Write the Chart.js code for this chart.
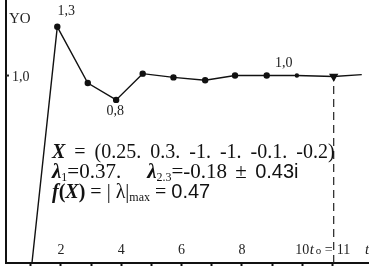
<!DOCTYPE html>
<html>
<head>
<meta charset="utf-8">
<script src="https://cdn.jsdelivr.net/npm/chart.js@4.4.1/dist/chart.umd.min.js"></script>
<style>
  html, body { margin: 0; padding: 0; background: #fff; }
  #wrap { position: relative; width: 369px; height: 274px; overflow: hidden; }
  #formula {
    position: absolute; left: 52px; top: 141px;
    font-family: "Liberation Serif", serif; font-size: 20px; line-height: 20px;
    color: #111; white-space: nowrap;
  }
  #formula .l1 { word-spacing: 4px; }
  #formula .l2 { font-size: 21px; word-spacing: 3px; }
  #formula sub { font-size: 12px; line-height: 0; vertical-align: -3px; }
  #formula .s { font-family: "Liberation Sans", sans-serif; font-size: 20px; }
  #formula .gap { display: inline-block; width: 26px; }
</style>
</head>
<body>
<div id="wrap">
  <canvas id="chart"></canvas>
  <div id="formula">
    <div class="l1"><b><i>X</i></b> = (0.25. 0.3. -1. -1. -0.1. -0.2)</div>
    <div class="l2"><b><i>λ</i></b><sub>1</sub>=0.37.<span class="gap"></span><b><i>λ</i></b><sub>2.3</sub>=-0.18 ± <span class="s">0.43i</span></div>
    <div><b><i>f</i>(<i>X</i>)</b> = | λ|<sub>max</sub> = <span class="s">0.47</span></div>
  </div>
</div>
<script>
// Значения
const tValues = [1.04, 1.88, 2.89, 3.83, 4.71, 5.73, 6.78, 7.77, 8.82, 9.82, 11.04, 11.97];
const yValues = [0, 1.26, 0.96, 0.87, 1.01, 0.99, 0.975, 1.0, 1.0, 1.0, 0.995, 1.005];
const tickValues = [1, 2, 3, 4, 5, 6, 7, 8, 9, 10, 11];
const tickLabels = ['', '2', '', '4', '', '6', '', '8', '', '10', ''];
const yTickValue = 1;
const yTickLabel = '1,0';
const t0 = 11.04;
// подписи у точек: индекс точки и текст
const pointNotes = [
    { index: 1, text: '1,3' },
    { index: 3, text: '0,8' },
    { index: 8, text: '1,0' }
];

const lineData = tValues.map((t, i) => ({ x: t, y: yValues[i] }));

const radii = tValues.map((t, i) => (i === 0 || i === tValues.length - 1) ? 0 : 2.5);
radii[9] = 1.5;
radii[10] = 4;
const styles = tValues.map((t, i) => i === 10 ? 'triangle' : 'circle');
const rotations = tValues.map((t, i) => i === 10 ? 180 : 0);

// Подписи поверх графика
const notesPlugin = {
    id: 'notes',
    afterDraw(chart) {
        const ctx = chart.ctx;
        const xs = chart.scales.x;
        const ys = chart.scales.y;
        const area = chart.chartArea;
        ctx.save();
        ctx.fillStyle = '#222';
        ctx.textAlign = 'center';
        ctx.textBaseline = 'middle';
        ctx.font = '14px "Liberation Serif"';

        const offsets = { 1: [9, -15], 3: [-1, 11], 8: [17, -12] };
        pointNotes.forEach(n => {
            const px = xs.getPixelForValue(tValues[n.index]);
            const py = ys.getPixelForValue(yValues[n.index]);
            const o = offsets[n.index];
            ctx.fillText(n.text, px + o[0], py + o[1]);
        });

        // подписи оси t
        const base = area.bottom;
        tickValues.forEach((v, i) => {
            if (tickLabels[i]) ctx.fillText(tickLabels[i], xs.getPixelForValue(v), base - 13);
        });

        // подпись оси y
        ctx.textAlign = 'left';
        ctx.fillText(yTickLabel, area.left + 6, ys.getPixelForValue(yTickValue) + 2);
        ctx.fillRect(area.left, ys.getPixelForValue(yTickValue) - 1, 3, 2);

        // t0 = 11
        const x11 = xs.getPixelForValue(t0);
        ctx.font = 'italic 15px "Liberation Serif"';
        ctx.fillText('t', x11 - 24, base - 13);
        ctx.font = '11px "Liberation Serif"';
        ctx.fillText('o', x11 - 18, base - 12);
        ctx.font = '14px "Liberation Serif"';
        ctx.fillText('=', x11 - 9, base - 13);
        ctx.fillText('11', x11 + 3, base - 13);
        ctx.font = 'italic 15px "Liberation Serif"';
        ctx.fillText('t', area.right - 4, base - 13);

        // yo
        ctx.font = '15px "Liberation Serif"';
        ctx.fillText('YO', area.left + 3, 19);
        ctx.restore();
    }
};

new Chart(document.getElementById('chart'), {
    type: 'scatter',
    data: {
        datasets: [
            {
                data: lineData,
                showLine: true,
                borderColor: '#111',
                backgroundColor: '#111',
                borderWidth: 1.4,
                pointRadius: radii,
                pointStyle: styles,
                pointRotation: rotations,
                tension: 0
            },
            {
                data: [{ x: t0, y: 0 }, { x: t0, y: yValues[10] }],
                showLine: true,
                borderColor: '#222',
                borderWidth: 1.2,
                borderDash: [8, 5],
                pointRadius: 0
            }
        ]
    },
    options: {
        responsive: true,
        maintainAspectRatio: false,
        animation: false,
        layout: { padding: { left: 6, right: 0, top: 0, bottom: 8 } },
        plugins: { legend: { display: false }, tooltip: { enabled: false } },
        scales: {
            x: {
                type: 'linear',
                min: 0.18,
                max: 12.21,
                afterBuildTicks: scale => { scale.ticks = tickValues.map(v => ({ value: v })); },
                ticks: { display: false },
                grid: { display: true, drawOnChartArea: false, drawTicks: true, tickLength: 3, tickWidth: 2, tickColor: '#111' },
                border: { display: true, color: '#111', width: 2 }
            },
            y: {
                type: 'linear',
                min: 0,
                max: 1.403,
                ticks: { display: false },
                grid: { display: false, drawTicks: false },
                border: { display: true, color: '#111', width: 2 }
            }
        }
    },
    plugins: [notesPlugin]
});
</script>
</body>
</html>
